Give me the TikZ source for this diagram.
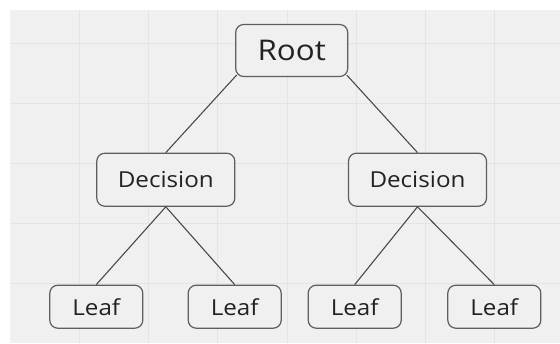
\documentclass[tikz,border=0pt]{standalone}
\usepackage{fontspec}
\newfontfamily\lblfont{Open Sans}[FakeStretch=1.1]
\definecolor{bgc}{HTML}{F0F0F0}
\definecolor{gridc}{HTML}{E4E4E4}
\definecolor{boxc}{HTML}{5E5E5E}
\definecolor{linec}{HTML}{4A4A4A}
\definecolor{txtc}{HTML}{222222}
\tikzset{
  box/.style={draw=boxc, line width=1.2pt, fill=bgc, rounded corners=8pt, inner sep=0pt, text=txtc, font=\lblfont},
  rootbox/.style={box, minimum width=112pt, minimum height=52pt, font=\lblfont\fontsize{28.5}{32}\selectfont},
  decbox/.style={box, minimum width=138pt, minimum height=53pt, font=\lblfont\fontsize{22}{26}\selectfont},
  leafbox/.style={box, minimum width=93pt, minimum height=43pt, font=\lblfont\fontsize{22}{26}\selectfont},
  conn/.style={draw=linec, line width=1.1pt}
}
\begin{document}
\begin{tikzpicture}[x=1pt,y=-1pt]
\useasboundingbox (0,0) rectangle (560,343);
\fill[white] (0,0) rectangle (560,343);
\fill[bgc] (10,10) rectangle (560,343);
\foreach \gx in {79.3,148.5,217.7,286.9,356.1,425.3,494.5}
  \draw[gridc, line width=0.8pt] (\gx,10) -- (\gx,343);
\foreach \gy in {43.3,103.3,163.3,223.4,283.3}
  \draw[gridc, line width=0.8pt] (10,\gy) -- (560,\gy);

\node[rootbox] (root) at (291.7,50.5) {Root};
\node[decbox] (decl) at (165.8,179.7) {Decision};
\node[decbox] (decr) at (417.5,179.7) {Decision};
\node[leafbox] (l1) at (96.3,306.7) {Leaf};
\node[leafbox] (l2) at (234.7,306.7) {Leaf};
\node[leafbox] (l3) at (354.7,306.7) {Leaf};
\node[leafbox] (l4) at (494.3,306.7) {Leaf};

\draw[conn] ([xshift=1.5pt,yshift=2pt]root.south west) -- (decl.north);
\draw[conn] ([xshift=-1.5pt,yshift=2pt]root.south east) -- (decr.north);
\draw[conn] (decl.south) -- (l1.north);
\draw[conn] (decl.south) -- (l2.north);
\draw[conn] (decr.south) -- (l3.north);
\draw[conn] (decr.south) -- (l4.north);
\end{tikzpicture}
\end{document}
